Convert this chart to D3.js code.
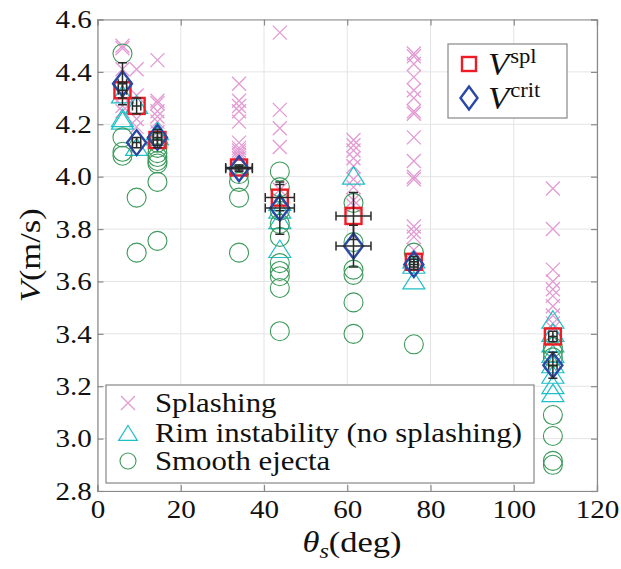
<!DOCTYPE html>
<html><head><meta charset="utf-8">
<script src="https://cdn.jsdelivr.net/npm/d3@7/dist/d3.min.js"></script>
<style>html,body{margin:0;padding:0;background:#fff;}svg{display:block;}</style>
</head><body>
<svg id="c" width="621" height="569"></svg>
<script>
// ---- data ----
const angles = [6, 9.4, 14.4, 34, 43.8, 61.5, 76, 109.4];
const splashing = [
  [4.50, 4.49, 4.41, 4.31, 4.27, 4.25],
  [4.41, 4.31, 4.22, 4.19],
  [4.445, 4.29, 4.28, 4.25, 4.23, 4.21, 4.17],
  [4.355, 4.29, 4.27, 4.25, 4.21, 4.13, 4.11, 4.10, 4.09, 4.08, 4.07],
  [4.55, 4.255, 4.185, 4.113, 3.95],
  [4.14, 4.12, 4.10, 4.07, 4.04, 3.99, 3.96, 3.91, 3.89],
  [4.47, 4.46, 4.43, 4.38, 4.33, 4.30, 4.25, 4.24, 4.15, 4.06, 4.00, 3.99, 3.81, 3.79, 3.77, 3.72],
  [3.955, 3.80, 3.645, 3.60, 3.57, 3.545, 3.505, 3.47, 3.44, 3.42]
];
const rimInstability = [
  [4.31, 4.22, 4.21],
  [4.27, 4.11],
  [4.17, 4.15],
  [],
  [3.90, 3.87, 3.83, 3.72],
  [4.00],
  [3.68, 3.66, 3.60],
  [3.45, 3.40, 3.36, 3.32, 3.28, 3.24, 3.20, 3.17]
];
const smoothEjecta = [
  [4.47, 4.15, 4.095, 4.08],
  [3.92, 3.71],
  [4.13, 4.11, 4.09, 4.075, 4.06, 4.05, 3.98, 3.755],
  [4.01, 3.98, 3.92, 3.71],
  [4.02, 3.96, 3.87, 3.82, 3.77, 3.67, 3.64, 3.62, 3.575, 3.41],
  [3.90, 3.75, 3.645, 3.625, 3.52, 3.40],
  [3.71, 3.36],
  [3.35, 3.33, 3.31, 3.09, 3.01, 2.915, 2.90]
];
const Vspl = [4.33, 4.27, 4.14, 4.035, 3.92, 3.85, 3.675, 3.39];
const VsplErr = [0.03, 0.03, 0.03, 0.01, 0.05, 0.09, 0.02, 0.02];
const Vcrit = [4.355, 4.13, 4.15, 4.03, 3.88, 3.735, 3.665, 3.28];
const VcritErr = [0.08, 0.02, 0.03, 0.01, 0.10, 0.08, 0.02, 0.05];
const thetaErr = [1, 1, 1, 3.2, 3.5, 4.2, 1, 1];
const xTicks = [0, 20, 40, 60, 80, 100, 120];
const yTicks = [2.8, 3.0, 3.2, 3.4, 3.6, 3.8, 4.0, 4.2, 4.4, 4.6];

// ---- layout ----
const W = 621, H = 569;
const m = {l: 97.5, r: 24, t: 19.5, b: 78};
const svg = d3.select("#c");
const x = d3.scaleLinear().domain([0, 120]).range([m.l, W - m.r]);
const y = d3.scaleLinear().domain([2.8, 4.6]).range([H - m.b, m.t]);
const FONT = "'Liberation Serif', 'Times New Roman', serif";
const cSplash = "#e39bd3", cRim = "#1fbfc6", cSmooth = "#3d9a5c";
const STR = 1.12; // horizontal stretch of text

// grid
const g = svg.append("g");
g.selectAll(".gx").data(xTicks).join("line")
  .attr("x1", d => x(d)).attr("x2", d => x(d)).attr("y1", m.t).attr("y2", H - m.b)
  .attr("stroke", "#e4e4e4").attr("stroke-width", 1);
g.selectAll(".gy").data(yTicks).join("line")
  .attr("y1", d => y(d)).attr("y2", d => y(d)).attr("x1", m.l).attr("x2", W - m.r)
  .attr("stroke", "#e4e4e4").attr("stroke-width", 1);

// axes
const axC = "#8a8a8a";
const fmt = d3.format(".1f");
const axB = svg.append("g").attr("transform", `translate(0,${H - m.b})`)
  .call(d3.axisBottom(x).tickValues(xTicks).tickSize(-6).tickPadding(9));
const axT = svg.append("g").attr("transform", `translate(0,${m.t})`)
  .call(d3.axisTop(x).tickValues(xTicks).tickSize(-6).tickFormat(""));
const axL = svg.append("g").attr("transform", `translate(${m.l},0)`)
  .call(d3.axisLeft(y).tickValues(yTicks).tickSize(-6).tickPadding(5).tickFormat(fmt));
const axR = svg.append("g").attr("transform", `translate(${W - m.r},0)`)
  .call(d3.axisRight(y).tickValues(yTicks).tickSize(-6).tickFormat(""));
[axB, axT, axL, axR].forEach(a => {
  a.select(".domain").attr("stroke", axC).attr("stroke-width", 1.2);
  a.selectAll(".tick line").attr("stroke", axC).attr("stroke-width", 1.2);
  a.selectAll("text").attr("font-family", FONT).attr("font-size", 26).attr("fill", "#111")
    .attr("transform", `scale(${STR},1)`);
});
axB.selectAll("text").attr("dy", "0.7em");

// flatten helper
function flat(arr) {
  const out = [];
  arr.forEach((vals, i) => vals.forEach(v => out.push({t: angles[i], v})));
  return out;
}

const plot = svg.append("g");
// splashing X
const xs = 7;
plot.selectAll(".sx").data(flat(splashing)).join("path")
  .attr("d", d => `M${x(d.t)-xs},${y(d.v)-xs}L${x(d.t)+xs},${y(d.v)+xs}M${x(d.t)-xs},${y(d.v)+xs}L${x(d.t)+xs},${y(d.v)-xs}`)
  .attr("stroke", cSplash).attr("stroke-width", 1.3).attr("fill", "none");
// rim triangles
function tri(cx, cy, s) { return `M${cx},${cy - s}L${cx + s*1.1},${cy + s*0.75}L${cx - s*1.1},${cy + s*0.75}Z`; }
plot.selectAll(".rt").data(flat(rimInstability)).join("path")
  .attr("d", d => tri(x(d.t), y(d.v), 10))
  .attr("stroke", cRim).attr("stroke-width", 1.2).attr("fill", "none");
// smooth circles
plot.selectAll(".sc").data(flat(smoothEjecta)).join("circle")
  .attr("cx", d => x(d.t)).attr("cy", d => y(d.v)).attr("r", 9.5)
  .attr("stroke", cSmooth).attr("stroke-width", 1.1).attr("fill", "none");

// Vspl squares
const sq = 8;
plot.selectAll(".sq").data(Vspl).join("rect")
  .attr("x", (d, i) => x(angles[i]) - sq).attr("y", d => y(d) - sq)
  .attr("width", 2*sq).attr("height", 2*sq)
  .attr("stroke", "#ee1c24").attr("stroke-width", 2.4).attr("fill", "none");
// Vcrit diamonds
function dia(cx, cy, w, h) { return `M${cx},${cy - h}L${cx + w},${cy}L${cx},${cy + h}L${cx - w},${cy}Z`; }
plot.selectAll(".di").data(Vcrit).join("path")
  .attr("d", (d, i) => dia(x(angles[i]), y(d), 9.5, 12.5))
  .attr("stroke", "#2b47a6").attr("stroke-width", 2.4).attr("fill", "none");

// error bars
const eb = plot.append("g").attr("stroke", "#2a2a2a").attr("stroke-width", 1.5).attr("fill", "none");
function errorBars(vals, errs) {
  vals.forEach((v, i) => {
    const cx = x(angles[i]), cy = y(v);
    const y1 = y(v + errs[i]), y2 = y(v - errs[i]);
    const x1 = x(angles[i] - thetaErr[i]), x2 = x(angles[i] + thetaErr[i]);
    const c = 4.5;
    eb.append("path").attr("d",
      `M${cx},${y1}L${cx},${y2}M${cx-c},${y1}L${cx+c},${y1}M${cx-c},${y2}L${cx+c},${y2}` +
      `M${x1},${cy}L${x2},${cy}M${x1},${cy-c}L${x1},${cy+c}M${x2},${cy-c}L${x2},${cy+c}`);
  });
}
errorBars(Vspl, VsplErr);
errorBars(Vcrit, VcritErr);

// axis titles
svg.append("text").attr("transform", `translate(352,552) scale(1.15,1)`)
  .attr("text-anchor", "middle").attr("font-family", FONT).attr("font-size", 30).attr("fill", "#111")
  .call(t => {
    t.append("tspan").attr("font-style", "italic").text("θ");
    t.append("tspan").attr("font-style", "italic").attr("font-size", 21).attr("dy", 6).text("s");
    t.append("tspan").attr("dy", -6).text("(deg)");
  });
svg.append("text").attr("transform", `translate(40,${(m.t + H - m.b)/2}) rotate(-90) scale(1.15,1)`)
  .attr("text-anchor", "middle").attr("font-family", FONT).attr("font-size", 30).attr("fill", "#111")
  .call(t => {
    t.append("tspan").attr("font-style", "italic").text("V");
    t.append("tspan").text("(m/s)");
  });

// legend 1 (top right)
const l1 = svg.append("g");
l1.append("rect").attr("x", 448).attr("y", 44).attr("width", 119).attr("height", 74)
  .attr("fill", "#fff").attr("stroke", "#888").attr("stroke-width", 1.2);
l1.append("rect").attr("x", 469 - 7).attr("y", 64 - 7).attr("width", 14).attr("height", 14)
  .attr("fill", "none").attr("stroke", "#ee1c24").attr("stroke-width", 2.4);
l1.append("path").attr("d", dia(469, 98, 8.5, 11.5)).attr("fill", "none").attr("stroke", "#2b47a6").attr("stroke-width", 2.4);
[["spl", 75], ["crit", 109]].forEach(([s, yy]) => {
  l1.append("text").attr("transform", `translate(488,${yy}) scale(1.08,1)`).attr("font-family", FONT).attr("font-size", 32).attr("fill", "#111")
    .call(t => {
      t.append("tspan").attr("font-style", "italic").text("V");
      t.append("tspan").attr("font-size", 21).attr("dy", -12).attr("dx", 1).text(s);
    });
});

// legend 2 (bottom left)
const l2 = svg.append("g");
l2.append("rect").attr("x", 106).attr("y", 385).attr("width", 428).attr("height", 98)
  .attr("fill", "#fff").attr("stroke", "#888").attr("stroke-width", 1.2);
const lx = 128;
l2.append("path").attr("d", `M${lx-7},${403-7}L${lx+7},${403+7}M${lx-7},${403+7}L${lx+7},${403-7}`)
  .attr("stroke", cSplash).attr("stroke-width", 1.3);
l2.append("path").attr("d", tri(lx, 434, 8.5)).attr("stroke", cRim).attr("stroke-width", 1.2).attr("fill", "none");
l2.append("circle").attr("cx", lx).attr("cy", 461).attr("r", 8).attr("stroke", cSmooth).attr("stroke-width", 1.1).attr("fill", "none");
[["Splashing", 412], ["Rim instability (no splashing)", 442], ["Smooth ejecta", 470]].forEach(([s, yy]) => {
  l2.append("text").attr("transform", `translate(155,${yy}) scale(1.1,1)`).attr("font-family", FONT).attr("font-size", 28).attr("fill", "#111").text(s);
});
</script>
</body></html>
